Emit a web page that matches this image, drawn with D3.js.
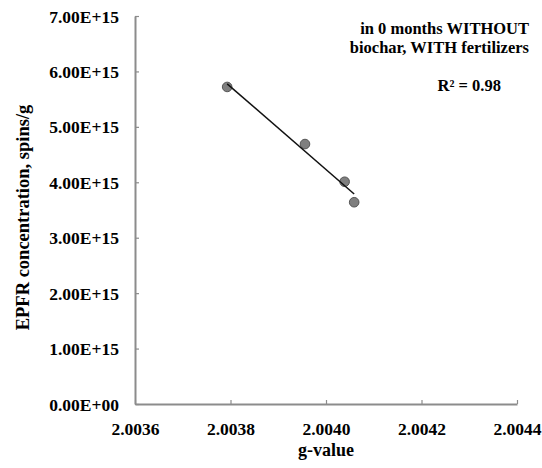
<!DOCTYPE html>
<html>
<head>
<meta charset="utf-8">
<script src="https://cdn.jsdelivr.net/npm/d3@7"></script>
<style>
  html, body { margin: 0; padding: 0; background: #fff; }
  svg { display: block; }
  text { font-family: "Liberation Serif", "Times New Roman", serif; font-weight: bold; fill: #000; }
</style>
</head>
<body>
<svg id="chart" width="542" height="468"></svg>
<script>
// EPR g-value vs. EPFR concentration
const gValues = [2.003793, 2.003956, 2.004039, 2.004059];
const concentrations = [5.72e15, 4.69e15, 4.01e15, 3.64e15];

const xTicks = [2.0036, 2.0038, 2.0040, 2.0042, 2.0044];
const yTicks = [0, 1e15, 2e15, 3e15, 4e15, 5e15, 6e15, 7e15];
const yTickLabels = ["0.00E+00", "1.00E+15", "2.00E+15", "3.00E+15", "4.00E+15", "5.00E+15", "6.00E+15", "7.00E+15"];
const titleLines = ["in 0 months WITHOUT", "biochar, WITH fertilizers"];
const xTitle = "g-value";
const yTitle = "EPFR concentration, spins/g";

(function () {
const svg = d3.select("#chart");
const plotLeft = 135, plotRight = 517, plotTop = 16, plotBottom = 404;

const x = d3.scaleLinear().domain([2.0036, 2.0044]).range([plotLeft, plotRight]);
const y = d3.scaleLinear().domain([0, 7e15]).range([plotBottom, plotTop]);

const axisColor = "#8c8c8c";

// Axes: ticks point inward, labels placed outside
const xAxis = svg.append("g").attr("transform", `translate(0,${plotBottom})`)
  .call(d3.axisBottom(x).tickValues(xTicks).tickSizeInner(-4).tickSizeOuter(0).tickFormat(d => d.toFixed(4)));
xAxis.select(".domain").attr("stroke", axisColor).attr("stroke-width", 2);
xAxis.selectAll(".tick line").attr("stroke", axisColor).attr("stroke-width", 1.2);
xAxis.selectAll(".tick text")
  .attr("y", 31).attr("dy", null)
  .style("font-family", "'Liberation Serif', 'Times New Roman', serif")
  .style("font-weight", "bold").style("font-size", "17.5px").attr("fill", "#000");

const yAxis = svg.append("g").attr("transform", `translate(${plotLeft},0)`)
  .call(d3.axisLeft(y).tickValues(yTicks).tickSizeInner(-4).tickSizeOuter(0)
    .tickFormat((d, i) => yTickLabels[i]));
yAxis.select(".domain").attr("stroke", axisColor).attr("stroke-width", 2);
yAxis.selectAll(".tick line").attr("stroke", axisColor).attr("stroke-width", 1.2);
yAxis.selectAll(".tick text")
  .attr("x", -16).attr("dy", "0.35em")
  .style("font-family", "'Liberation Serif', 'Times New Roman', serif")
  .style("font-weight", "bold").style("font-size", "17.5px").attr("fill", "#000");

// Least-squares fit
const n = gValues.length;
const mx = d3.mean(gValues), my = d3.mean(concentrations);
let sxx = 0, sxy = 0, syy = 0;
for (let i = 0; i < n; i++) {
  const dx = gValues[i] - mx, dy = concentrations[i] - my;
  sxx += dx * dx; sxy += dx * dy; syy += dy * dy;
}
const slope = sxy / sxx, intercept = my - slope * mx;
const r2 = (sxy * sxy) / (sxx * syy);

// Data points
svg.append("g").selectAll("circle")
  .data(gValues.map((g, i) => [g, concentrations[i]]))
  .join("circle")
  .attr("cx", d => x(d[0]))
  .attr("cy", d => y(d[1]))
  .attr("r", 4.8)
  .attr("fill", "#7f7f7f")
  .attr("stroke", "#555")
  .attr("stroke-width", 1);

// Trend line across the data range
const x0 = d3.min(gValues), x1 = d3.max(gValues);
svg.append("line")
  .attr("x1", x(x0)).attr("y1", y(intercept + slope * x0))
  .attr("x2", x(x1)).attr("y2", y(intercept + slope * x1))
  .attr("stroke", "#111").attr("stroke-width", 1.5);

// Annotation
svg.append("text").attr("text-anchor", "end").attr("font-size", 16.5)
  .selectAll("tspan").data(titleLines).join("tspan")
  .attr("x", 529).attr("y", (d, i) => 34 + i * 19).text(d => d);

svg.append("text").attr("x", 501).attr("y", 91).attr("text-anchor", "end")
  .attr("font-size", 16.5).text(`R² = ${r2.toFixed(2)}`);

// Axis titles
svg.append("text").attr("x", (plotLeft + plotRight) / 2).attr("y", 456)
  .attr("text-anchor", "middle").attr("font-size", 18).text(xTitle);

svg.append("text").attr("transform", "translate(29,217.5) rotate(-90)")
  .attr("text-anchor", "middle").attr("font-size", 18.5).text(yTitle);
})();
</script>
</body>
</html>
